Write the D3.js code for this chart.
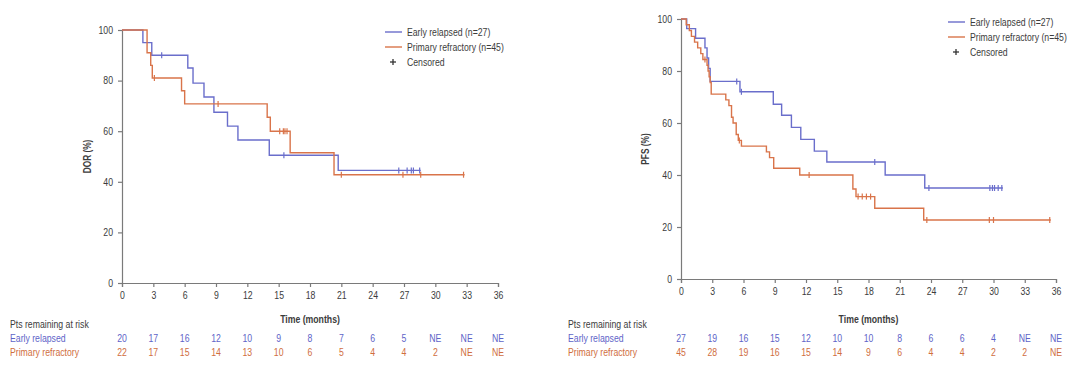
<!DOCTYPE html>
<html>
<head>
<meta charset="utf-8">
<script src="https://cdn.jsdelivr.net/npm/d3@7"></script>
<style>
  html, body { margin: 0; padding: 0; background: #fff; }
  svg { display: block; font-family: "Liberation Sans", Arial, sans-serif; }
</style>
</head>
<body>
<div id="chart"></div>
<script>
// ---- data ----
const months = [0, 3, 6, 9, 12, 15, 18, 21, 24, 27, 30, 33, 36];
const yTicks = [0, 20, 40, 60, 80, 100];
const groups = ["Early relapsed", "Primary refractory"];
const legendLabels = ["Early relapsed (n=27)", "Primary refractory (n=45)", "Censored"];

// DOR: [time, %] step points
const dorEarly = [[0,100],[2.0,95],[2.85,90],[6.3,85],[6.8,79],[7.85,73.5],[8.8,67.5],[10.1,62],[11.1,56.5],[14.1,50.5],[20.7,44.5],[28.6,44.5]];
const dorEarlyCens = [3.8, 15.5, 26.5, 27.3, 27.7, 27.9, 28.5];
const dorPrimary = [[0,100],[2.4,91],[2.75,86],[2.9,81],[5.7,76],[6.0,70.8],[13.9,65.5],[14.2,60],[16.1,51.5],[20.3,42.8],[32.8,42.8]];
const dorPrimaryCens = [3.1, 9.2, 15.1, 15.45, 15.6, 15.8, 21.0, 26.9, 28.6, 32.7];
const dorRiskEarly = ["20","17","16","12","10","9","8","7","6","5","NE","NE","NE"];
const dorRiskPrimary = ["22","17","15","14","13","10","6","5","4","4","2","NE","NE"];

// PFS
const pfsEarly = [[0,100],[0.55,96.3],[1.4,92.6],[2.3,88.9],[2.5,85],[2.65,81],[2.8,76],[5.66,72],[8.86,67.2],[9.66,63],[10.6,58.3],[11.5,53.7],[12.8,49.2],[14.0,45],[19.6,40],[23.4,35],[30.9,35]];
const pfsEarlyCens = [5.35, 5.8, 18.6, 23.8, 29.65, 29.9, 30.1, 30.45, 30.8];
const pfsPrimary = [[0,100],[0.5,97.8],[0.8,95.6],[1.0,93.3],[1.3,91.1],[1.6,88.9],[1.9,86.7],[2.1,84.4],[2.5,82.2],[2.6,80],[2.7,77.8],[2.8,75.6],[2.9,71.1],[4.3,68.9],[4.6,66.7],[4.85,62.2],[5.0,60],[5.3,55.6],[5.5,53.3],[5.8,51.1],[8.2,48.9],[8.5,46.7],[8.9,42.6],[11.4,40],[16.5,34.6],[16.8,31.7],[18.6,27.2],[23.3,22.7],[35.5,22.7]];
const pfsPrimaryCens = [2.3, 5.6, 12.3, 17.0, 17.4, 17.8, 18.2, 23.6, 29.6, 30.0, 35.4];
const pfsRiskEarly = ["27","19","16","15","12","10","10","8","6","6","4","NE","NE"];
const pfsRiskPrimary = ["45","28","19","16","15","14","9","6","4","4","2","2","NE"];

const COLORS = { early: '#6a6ecb', primary: '#d9744a', earlyText: '#5e64c8', primaryText: '#d06e3e', axis: '#7a7a7a', text: '#3c3c3c' };

const panels = [
  { x0: 122, x1: 498, yTop: 30, yBot: 283, title: "DOR (%)", titleX: 87,
    legX: 385, legY: 32, tableX: 10,
    series: [[dorEarly, dorEarlyCens, COLORS.early], [dorPrimary, dorPrimaryCens, COLORS.primary]],
    risk: [dorRiskEarly, dorRiskPrimary] },
  { x0: 681, x1: 1056, yTop: 19, yBot: 279, title: "PFS (%)", titleX: 645,
    legX: 948, legY: 22, tableX: 568,
    series: [[pfsEarly, pfsEarlyCens, COLORS.early], [pfsPrimary, pfsPrimaryCens, COLORS.primary]],
    risk: [pfsRiskEarly, pfsRiskPrimary] }
];

const svg = d3.select("#chart").append("svg").attr("width", 1080).attr("height", 374);

// step value at time t
function levelAt(steps, t) {
  let v = steps[0][1];
  for (const s of steps) { if (s[0] <= t) v = s[1]; }
  return v;
}

panels.forEach(p => {
  const x = d3.scaleLinear().domain([0, 36]).range([p.x0, p.x1]);
  const y = d3.scaleLinear().domain([0, 100]).range([p.yBot, p.yTop]);
  const g = svg.append("g");

  // axes
  const xAxis = g.append("g").attr("transform", `translate(0,${p.yBot})`)
    .call(d3.axisBottom(x).tickValues(months).tickSize(4).tickPadding(5));
  const yAxis = g.append("g").attr("transform", `translate(${p.x0},0)`)
    .call(d3.axisLeft(y).tickValues(yTicks).tickSize(4).tickPadding(5));
  [xAxis, yAxis].forEach(a => {
    a.select(".domain").attr("stroke", COLORS.axis).attr("stroke-width", 1.2);
    a.selectAll(".tick line").attr("stroke", COLORS.axis).attr("stroke-width", 1.2);
    a.selectAll(".tick text").attr("fill", COLORS.text).attr("font-size", "10.5px").attr("font-family", "Liberation Sans, Arial, sans-serif");
  });

  // axis titles
  g.append("text")
    .attr("transform", `translate(${p.titleX},${(p.yTop + p.yBot) / 2}) rotate(-90)`)
    .attr("text-anchor", "middle").attr("dy", "0.35em")
    .attr("font-size", "10px").attr("font-weight", "bold").attr("fill", COLORS.text)
    .text(p.title);
  g.append("text")
    .attr("x", (p.x0 + p.x1) / 2).attr("y", 319).attr("dy", "0.35em")
    .attr("text-anchor", "middle").attr("font-size", "10.5px").attr("font-weight", "bold").attr("fill", COLORS.text)
    .text("Time (months)");

  // curves
  const line = d3.line().x(d => x(d[0])).y(d => y(d[1])).curve(d3.curveStepAfter);
  p.series.forEach(([steps, cens, color]) => {
    g.append("path").datum(steps)
      .attr("d", line).attr("fill", "none").attr("stroke", color).attr("stroke-width", 1.4);
    g.selectAll(null).data(cens).enter().append("line")
      .attr("x1", d => x(d)).attr("x2", d => x(d))
      .attr("y1", d => y(levelAt(steps, d)) - 3).attr("y2", d => y(levelAt(steps, d)) + 3)
      .attr("stroke", color).attr("stroke-width", 1.2);
  });

  // legend
  const lg = g.append("g").attr("transform", `translate(${p.legX},${p.legY})`);
  legendLabels.forEach((lab, i) => {
    const yy = i * 15;
    if (i < 2) {
      lg.append("line").attr("x1", 0).attr("x2", 17).attr("y1", yy).attr("y2", yy)
        .attr("stroke", i === 0 ? COLORS.early : COLORS.primary).attr("stroke-width", 1.4);
    } else {
      lg.append("line").attr("x1", 5).attr("x2", 11).attr("y1", yy).attr("y2", yy).attr("stroke", "#333").attr("stroke-width", 1.3);
      lg.append("line").attr("x1", 8).attr("x2", 8).attr("y1", yy - 3).attr("y2", yy + 3).attr("stroke", "#333").attr("stroke-width", 1.3);
    }
    lg.append("text").attr("x", 22).attr("y", yy).attr("dy", "0.35em")
      .attr("font-size", "10.5px").attr("fill", COLORS.text).text(lab);
  });

  // risk table
  g.append("text").attr("x", p.tableX).attr("y", 324).attr("dy", "0.35em")
    .attr("font-size", "10.5px").attr("fill", COLORS.text).text("Pts remaining at risk");
  [COLORS.earlyText, COLORS.primaryText].forEach((c, i) => {
    const yy = 338 + i * 14;
    g.append("text").attr("x", p.tableX).attr("y", yy).attr("dy", "0.35em")
      .attr("font-size", "10.5px").attr("fill", c).text(groups[i]);
    g.selectAll(null).data(p.risk[i]).enter().append("text")
      .attr("x", (d, j) => x(months[j])).attr("y", yy).attr("dy", "0.35em")
      .attr("text-anchor", "middle").attr("font-size", "10.5px").attr("fill", c)
      .text(d => d);
  });
});

// the source figure is horizontally squeezed; narrow every label about its anchor
const squeeze = 0.83;
svg.selectAll("text").each(function() {
  const t = d3.select(this);
  const tf = t.attr("transform");
  if (tf) {
    // rotated titles: squeeze along the text direction
    t.attr("transform", `${tf} scale(${squeeze},1)`);
  } else {
    const ax = +t.attr("x") || 0;
    t.attr("transform", `translate(${ax * (1 - squeeze)},0) scale(${squeeze},1)`);
  }
});
</script>
</body>
</html>
